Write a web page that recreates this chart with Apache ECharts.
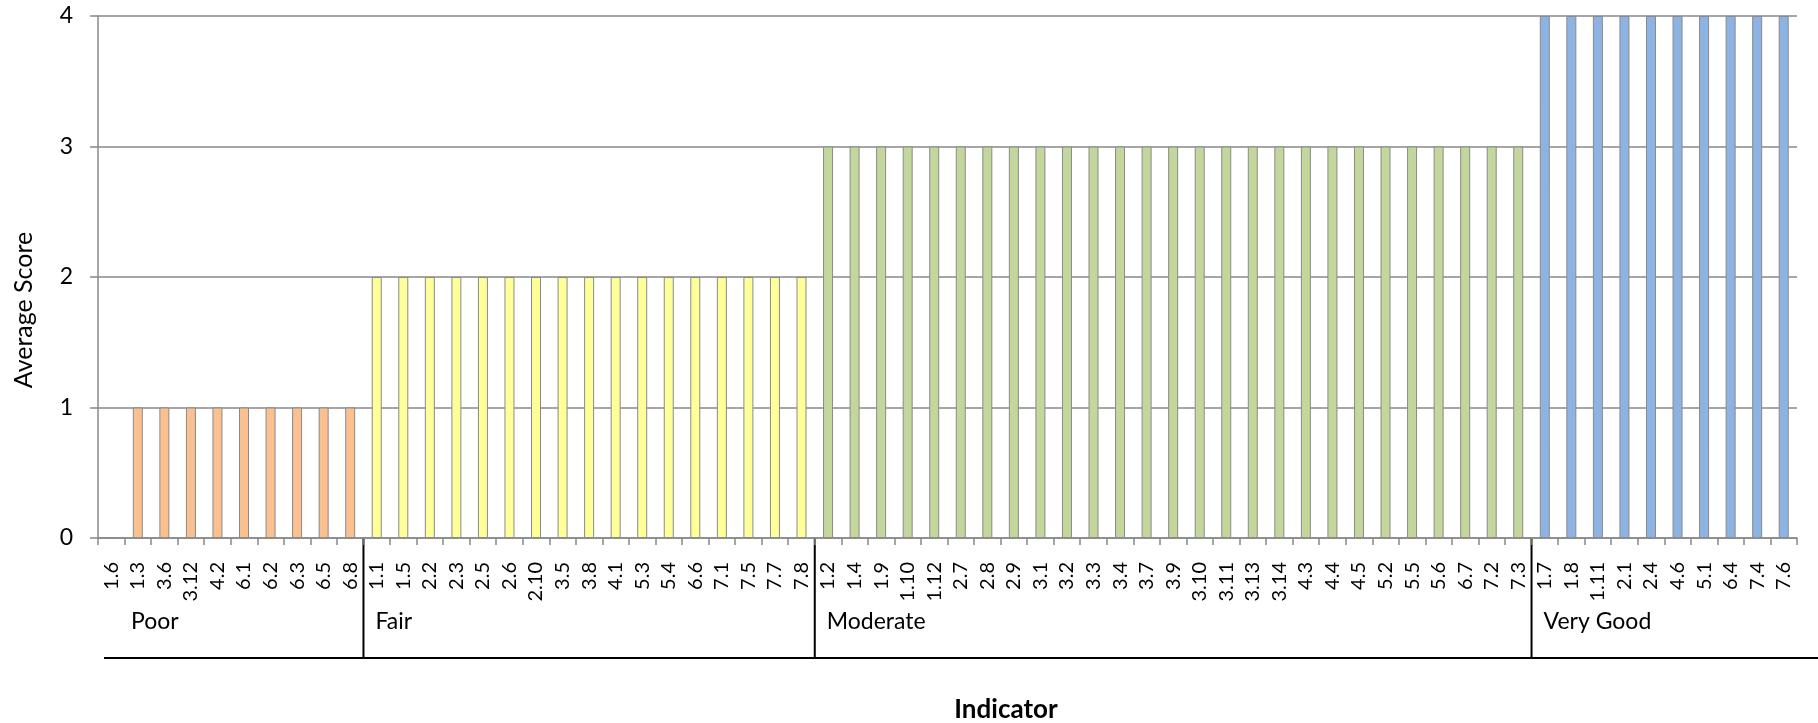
<!DOCTYPE html>
<html>
<head>
<meta charset="utf-8">
<script src="https://cdn.jsdelivr.net/npm/echarts@6/dist/echarts.min.js"></script>
<style>
  html, body { margin: 0; padding: 0; background: #fff; }
  #chart { width: 1818px; height: 723px; }
</style>
</head>
<body>
<div id="chart"></div>
<script>
// Indicators grouped by rating band, with their average scores
const groupNames = ['Poor', 'Fair', 'Moderate', 'Very Good'];
const groupColors = ['#FAC090', '#FFFF99', '#C3D69B', '#8DB3E2'];

const poorIndicators = ['1.6', '1.3', '3.6', '3.12', '4.2', '6.1', '6.2', '6.3', '6.5', '6.8'];
const poorScores = [0, 1, 1, 1, 1, 1, 1, 1, 1, 1];

const fairIndicators = ['1.1', '1.5', '2.2', '2.3', '2.5', '2.6', '2.10', '3.5', '3.8', '4.1', '5.3', '5.4', '6.6', '7.1', '7.5', '7.7', '7.8'];
const fairScores = [2, 2, 2, 2, 2, 2, 2, 2, 2, 2, 2, 2, 2, 2, 2, 2, 2];

const moderateIndicators = ['1.2', '1.4', '1.9', '1.10', '1.12', '2.7', '2.8', '2.9', '3.1', '3.2', '3.3', '3.4', '3.7', '3.9', '3.10', '3.11', '3.13', '3.14', '4.3', '4.4', '4.5', '5.2', '5.5', '5.6', '6.7', '7.2', '7.3'];
const moderateScores = [3, 3, 3, 3, 3, 3, 3, 3, 3, 3, 3, 3, 3, 3, 3, 3, 3, 3, 3, 3, 3, 3, 3, 3, 3, 3, 3];

const veryGoodIndicators = ['1.7', '1.8', '1.11', '2.1', '2.4', '4.6', '5.1', '6.4', '7.4', '7.6'];
const veryGoodScores = [4, 4, 4, 4, 4, 4, 4, 4, 4, 4];

const yTicks = [0, 1, 2, 3, 4];

const groups = [
  { indicators: poorIndicators, scores: poorScores },
  { indicators: fairIndicators, scores: fairScores },
  { indicators: moderateIndicators, scores: moderateScores },
  { indicators: veryGoodIndicators, scores: veryGoodScores }
];

const categories = [];
const barData = [];
groups.forEach((g, gi) => {
  g.indicators.forEach((code, i) => {
    categories.push(code);
    barData.push({
      value: g.scores[i],
      itemStyle: { color: groupColors[gi] }
    });
  });
});

const FONT = 'Lato, "Open Sans", sans-serif';
const GRID_COLOR = '#888888';

const chart = echarts.init(document.getElementById('chart'), null, { renderer: 'canvas' });

chart.setOption({
  animation: false,
  backgroundColor: '#ffffff',
  grid: { left: 98, right: 21, top: 16, bottom: 185, containLabel: false },
  xAxis: {
    type: 'category',
    data: categories,
    boundaryGap: true,
    axisLine: { show: true, lineStyle: { color: GRID_COLOR, width: 1.5 } },
    axisTick: { show: true, interval: 0, length: 7, lineStyle: { color: GRID_COLOR, width: 1.5 } },
    axisLabel: {
      interval: 0,
      rotate: 90,
      margin: 24,
      color: '#000',
      fontFamily: FONT,
      fontSize: 20
    },
    splitLine: { show: false }
  },
  yAxis: {
    type: 'value',
    min: yTicks[0],
    max: yTicks[yTicks.length - 1],
    interval: 1,
    axisLine: { show: true, lineStyle: { color: GRID_COLOR, width: 1.5 } },
    axisTick: { show: true, length: 8, lineStyle: { color: GRID_COLOR, width: 1.5 } },
    axisLabel: { margin: 25, color: '#000', fontFamily: FONT, fontSize: 23 },
    splitLine: { show: true, lineStyle: { color: GRID_COLOR, width: 1.5 } }
  },
  series: [{
    type: 'bar',
    data: barData,
    barWidth: 10,
    itemStyle: { borderColor: '#8a8a8a', borderWidth: 1 }
  }]
});

// Group brackets beneath the indicator labels, placed from the category scale
function drawGroups() {
  const c0 = chart.convertToPixel({ xAxisIndex: 0 }, 0);
  const c1 = chart.convertToPixel({ xAxisIndex: 0 }, 1);
  const band = c1 - c0;
  const axisY = chart.convertToPixel({ yAxisIndex: 0 }, 0);
  const bracketY = 658;
  const elements = [];

  let start = 0;
  groups.forEach((g, gi) => {
    const leftEdge = chart.convertToPixel({ xAxisIndex: 0 }, start) - band / 2;
    if (gi > 0) {
      elements.push({
        type: 'line',
        shape: { x1: leftEdge, y1: axisY, x2: leftEdge, y2: bracketY },
        style: { stroke: '#000', lineWidth: 2 },
        silent: true
      });
    }
    elements.push({
      type: 'text',
      x: leftEdge + (gi === 0 ? 33 : 12),
      y: 622,
      style: {
        text: groupNames[gi],
        fill: '#000',
        font: '23px ' + FONT,
        textAlign: 'left',
        textVerticalAlign: 'middle'
      },
      silent: true
    });
    start += g.indicators.length;
  });

  elements.push({
    type: 'line',
    shape: { x1: 104, y1: bracketY, x2: 1818, y2: bracketY },
    style: { stroke: '#000', lineWidth: 2 },
    silent: true
  });

  // Axis titles
  elements.push({
    type: 'text',
    x: 1006,
    y: 710,
    style: {
      text: 'Indicator',
      fill: '#000',
      font: 'bold 26px ' + FONT,
      textAlign: 'center',
      textVerticalAlign: 'middle'
    },
    silent: true
  });
  elements.push({
    type: 'text',
    x: 24,
    y: 310,
    rotation: Math.PI / 2,
    style: {
      text: 'Average Score',
      fill: '#000',
      font: '25px ' + FONT,
      textAlign: 'center',
      textVerticalAlign: 'middle'
    },
    silent: true
  });

  chart.setOption({ graphic: { elements: elements } });
}

drawGroups();
</script>
</body>
</html>
